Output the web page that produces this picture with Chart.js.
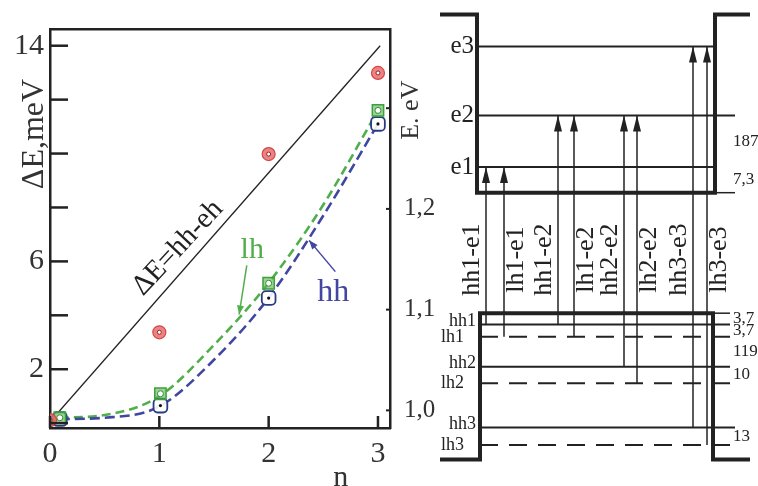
<!DOCTYPE html>
<html>
<head>
<meta charset="utf-8">
<script src="https://cdn.jsdelivr.net/npm/chart.js@4.4.1/dist/chart.umd.min.js"></script>
<style>
html, body { margin: 0; padding: 0; background: #fff; }
#wrap { position: relative; width: 758px; height: 486px; overflow: hidden; }
canvas { position: absolute; top: 0; }
#left { left: 0; }
#right { left: 390px; }
</style>
</head>
<body>
<div id="wrap">
<canvas id="left" width="450" height="486"></canvas>
<canvas id="right" width="368" height="486"></canvas>
</div>
<script>
// left panel: splitting vs n
const nObs = [0, 1, 2, 3];
const dEObs = [0.11, 3.37, 9.98, 12.99];
const nCalc = [0.09, 1.01, 2.0, 3.0];
const dELh = [0.2, 1.09, 5.19, 11.6];
const dEHh = [0.15, 0.65, 4.64, 11.1];
const nFit = [0.09, 0.5, 1.0, 1.5, 2.0, 2.5, 3.0];
const fitLh = [0.2, 0.3, 1.0, 2.9, 5.2, 8.1, 11.6];
const fitHh = [0.15, 0.2, 0.62, 2.35, 4.65, 7.7, 11.1];
const nDiag = [0, 3.02];
const dEDiag = [0.05, 14.0];
const xTicks = [0, 1, 2, 3];
const yTicks = [0, 2, 4, 6, 8, 10, 12, 14];
const yLabels = [2, 6, 14];
const eTicks = [1.0, 1.1, 1.2, 1.3];
const eLabels = ['1,0', '1,1', '1,2', ''];

// right panel: band diagram (z in arb. units, E in eV)
const cbZ = [5, 8.7, 8.7, 32.5, 32.5, 36];
const cbE = [1.384, 1.384, 1.211, 1.211, 1.384, 1.384];
const vbZ = [5, 9.0, 9.0, 32.3, 32.3, 36];
const vbE = [0.952, 0.952, 1.094, 1.094, 0.952, 0.952];
const eNames = ['e1', 'e2', 'e3'];
const eLevels = [1.236, 1.286, 1.353];
const eEnds = [32.5, 34.5, 32.5];
const hNames = ['hh1', 'lh1', 'hh2', 'lh2', 'hh3', 'lh3'];
const hLevels = [1.083, 1.071, 1.042, 1.026, 0.983, 0.966];
const hEnds = [34, 34, 34, 34, 34.5, 34.5];
const tNames = ['hh1-e1', 'lh1-e1', 'hh1-e2', 'lh1-e2', 'hh2-e2', 'lh2-e2', 'hh3-e3', 'lh3-e3'];
const tZ = [9.6, 11.4, 16.8, 18.4, 23.4, 24.7, 30.3, 31.7];
const tFrom = ['hh1', 'lh1', 'hh1', 'lh1', 'hh2', 'lh2', 'hh3', 'lh3'];
const tTo = ['e1', 'e1', 'e2', 'e2', 'e2', 'e2', 'e3', 'e3'];
const splitText = ['7,3', '187', '3,7', '3,7', '119', '10', '13'];
const splitA = ['cb', 'e1', 'vb', 'hh1', 'lh1', 'hh2', 'hh3'];
const splitB = ['e1', 'e2', 'hh1', 'lh1', 'hh2', 'lh2', 'lh3'];

const serif = "'Liberation Serif', 'DejaVu Serif', serif";
const ink = '#222';
const green = 'rgb(80,175,75)';
const blue = 'rgb(65,70,160)';
const red = 'rgb(215,70,70)';

const pts = (xs, ys) => xs.map((x, i) => ({ x: x, y: ys[i] }));

const energy = { cb: cbE[2], vb: vbE[2] };
eNames.forEach((n, i) => energy[n] = eLevels[i]);
hNames.forEach((n, i) => energy[n] = hLevels[i]);

function text(ctx, str, x, y, size, color, angle, align) {
  ctx.save();
  ctx.translate(x, y);
  ctx.rotate((angle || 0) * Math.PI / 180);
  ctx.font = size + 'px ' + serif;
  ctx.fillStyle = color;
  ctx.textAlign = align || 'center';
  ctx.textBaseline = 'middle';
  ctx.fillText(str, 0, 0);
  ctx.restore();
}

function line(ctx, x1, y1, x2, y2) {
  ctx.beginPath();
  ctx.moveTo(x1, y1);
  ctx.lineTo(x2, y2);
  ctx.stroke();
}

function arrow(ctx, x1, y1, x2, y2, color, len, half) {
  ctx.save();
  ctx.strokeStyle = color;
  ctx.fillStyle = color;
  ctx.lineWidth = 1.5;
  line(ctx, x1, y1, x2, y2);
  const a = Math.atan2(y2 - y1, x2 - x1);
  ctx.translate(x2, y2);
  ctx.rotate(a);
  ctx.beginPath();
  ctx.moveTo(0, 0);
  ctx.lineTo(-len, -half);
  ctx.lineTo(-len, half);
  ctx.closePath();
  ctx.fill();
  ctx.restore();
}

const tickFont = { family: serif, size: 30 };

const leftDecor = {
  id: 'leftDecor',
  afterDraw(chart) {
    const ctx = chart.ctx, a = chart.chartArea;
    const sx = chart.scales.x, sy = chart.scales.y, se = chart.scales.yE;
    ctx.save();
    ctx.strokeStyle = ink;
    ctx.lineWidth = 2.5;
    yTicks.forEach(v => {
      const p = sy.getPixelForValue(v);
      line(ctx, a.left, p, a.left + 18, p);
    });
    xTicks.forEach(v => {
      const p = sx.getPixelForValue(v);
      line(ctx, p, a.bottom, p, a.bottom - 12);
    });
    ctx.lineWidth = 2;
    eTicks.forEach(v => {
      const p = se.getPixelForValue(v);
      line(ctx, a.right - 4, p, a.right, p);
    });
    ctx.restore();

    text(ctx, '\u0394E,meV', a.left - 15, a.top + 105, 32, '#333', -90);
    text(ctx, 'n', sx.getPixelForValue(2.66), a.bottom + 50, 30, '#333');
    text(ctx, 'E. eV', a.right + 21, se.getPixelForValue(1.298), 26, '#333', -90);

    text(ctx, '\u0394E=hh-eh', sx.getPixelForValue(1.17), sy.getPixelForValue(6.5), 29, ink, -47);
    text(ctx, 'lh', sx.getPixelForValue(1.85), sy.getPixelForValue(6.4), 30, green);
    arrow(ctx, sx.getPixelForValue(1.80), sy.getPixelForValue(5.85),
      sx.getPixelForValue(1.73), sy.getPixelForValue(4.03), green, 9, 3.5);
    text(ctx, 'hh', sx.getPixelForValue(2.59), sy.getPixelForValue(4.83), 32, blue);
    arrow(ctx, sx.getPixelForValue(2.61), sy.getPixelForValue(5.62),
      sx.getPixelForValue(2.37), sy.getPixelForValue(6.78), blue, 9, 3.5);
  }
};

const frame = { color: ink, width: 2.5 };

new Chart(document.getElementById('left'), {
  type: 'line',
  data: {
    datasets: [
      { data: pts(nObs, dEObs), showLine: false, pointRadius: 2, pointBackgroundColor: '#fff',
        pointBorderColor: 'rgb(150,30,30)', pointBorderWidth: 1, order: 0 },
      { data: pts(nObs, dEObs), showLine: false, pointRadius: 6.5, pointBackgroundColor: 'rgba(230,110,110,0.85)',
        pointBorderColor: red, pointBorderWidth: 1.2, order: 1 },
      { data: pts(nCalc, dELh), showLine: false, pointRadius: 3, pointBackgroundColor: '#fff',
        pointBorderColor: 'rgb(50,140,50)', pointBorderWidth: 1, order: 2 },
      { data: pts(nCalc, dELh), showLine: false, pointStyle: 'rect', pointRadius: 8, pointBackgroundColor: 'rgba(90,180,80,0.6)',
        pointBorderColor: 'rgb(60,160,60)', pointBorderWidth: 1.5, order: 3 },
      { data: pts(nCalc, dEHh), showLine: false, pointRadius: 1.6, pointBackgroundColor: '#111',
        pointBorderColor: '#111', pointBorderWidth: 0, order: 4 },
      { data: pts(nCalc, dEHh), showLine: false, pointStyle: 'rectRounded', pointRadius: 8, pointBackgroundColor: 'rgba(255,255,255,0.9)',
        pointBorderColor: 'rgb(40,60,130)', pointBorderWidth: 1.8, order: 5 },
      { data: pts(nFit, fitHh), borderColor: blue, borderWidth: 2.6, borderDash: [10, 5],
        cubicInterpolationMode: 'monotone', pointRadius: 0, order: 7 },
      { data: pts(nFit, fitLh), borderColor: green, borderWidth: 2.6, borderDash: [9, 5],
        cubicInterpolationMode: 'monotone', pointRadius: 0, order: 8 },
      { data: pts(nDiag, dEDiag), borderColor: ink, borderWidth: 1.3, pointRadius: 0, order: 9 }
    ]
  },
  options: {
    responsive: false,
    animation: false,
    events: [],
    layout: { padding: 0 },
    plugins: { legend: { display: false }, tooltip: { enabled: false } },
    scales: {
      x: {
        type: 'linear', position: 'bottom', min: 0, max: 3.11,
        afterBuildTicks: s => { s.ticks = xTicks.map(v => ({ value: v })); },
        afterFit: s => { s.height = 58; },
        grid: { display: false, drawTicks: false },
        border: frame,
        ticks: { padding: 8, font: tickFont, color: '#333', autoSkip: false, maxRotation: 0, callback: v => String(v) }
      },
      xTop: {
        type: 'linear', position: 'top', min: 0, max: 3.11,
        afterFit: s => { s.height = 20; },
        grid: { display: false, drawTicks: false },
        border: frame,
        ticks: { display: false }
      },
      y: {
        type: 'linear', position: 'left', min: -0.18, max: 14.62,
        afterBuildTicks: s => { s.ticks = yTicks.map(v => ({ value: v })); },
        afterFit: s => { s.width = 50; },
        grid: { display: false, drawTicks: false },
        border: frame,
        ticks: { padding: 6, font: tickFont, color: '#333', autoSkip: false,
          callback: v => yLabels.includes(v) ? String(v) : '' }
      },
      yE: {
        type: 'linear', position: 'right', min: 0.9825, max: 1.3786,
        afterBuildTicks: s => { s.ticks = eTicks.map(v => ({ value: v })); },
        afterFit: s => { s.width = 60; },
        grid: { display: false, drawTicks: false },
        border: frame,
        ticks: { padding: 14, font: { family: serif, size: 25 }, color: '#333', autoSkip: false,
          callback: (v, i) => eLabels[i] }
      }
    }
  },
  plugins: [leftDecor]
});

// right panel
const rightDecor = {
  id: 'rightDecor',
  afterDatasetsDraw(chart) {
    const ctx = chart.ctx;
    const sx = chart.scales.x, sy = chart.scales.y;
    ctx.save();
    ctx.fillStyle = ink;
    tZ.forEach((z, i) => {
      const px = sx.getPixelForValue(z), py = sy.getPixelForValue(energy[tTo[i]]);
      ctx.beginPath();
      ctx.moveTo(px, py);
      ctx.lineTo(px - 4, py + 16);
      ctx.lineTo(px + 4, py + 16);
      ctx.closePath();
      ctx.fill();
    });
    ctx.restore();

    eNames.forEach((n, i) => {
      text(ctx, n, sx.getPixelForValue(8.4), sy.getPixelForValue(eLevels[i]), 25, ink, 0, 'right');
    });
    hNames.forEach((n, i) => {
      const heavy = n.startsWith('hh');
      text(ctx, n, sx.getPixelForValue(heavy ? 8.6 : 7.4), sy.getPixelForValue(hLevels[i]) - (heavy ? 3 : 0),
        18, ink, 0, 'right');
    });
    tNames.forEach((n, i) => {
      const off = n.startsWith('hh') ? -1.4 : 1.2;
      text(ctx, n, sx.getPixelForValue(tZ[i] + off), sy.getPixelForValue(1.146), 26, ink, -90);
    });
    splitText.forEach((t, i) => {
      const e = (energy[splitA[i]] + energy[splitB[i]]) / 2;
      text(ctx, t, sx.getPixelForValue(34.3), sy.getPixelForValue(e), 17, ink, 0, 'left');
    });
  }
};

const rightSets = [
  { data: pts(cbZ, cbE), borderWidth: 4 },
  { data: pts(vbZ, vbE), borderWidth: 4 },
  { data: pts([cbZ[3], 34.5], [cbE[3], cbE[3]]), borderWidth: 1.5 },
  { data: pts([vbZ[3], 34], [vbE[3], vbE[3]]), borderWidth: 1.5 }
];
eNames.forEach((n, i) => {
  rightSets.push({ data: pts([cbZ[1], eEnds[i]], [eLevels[i], eLevels[i]]), borderWidth: 2 });
});
hNames.forEach((n, i) => {
  rightSets.push({ data: pts([vbZ[1], hEnds[i]], [hLevels[i], hLevels[i]]), borderWidth: 2,
    borderDash: n.startsWith('lh') ? [18, 11] : [] });
});
tZ.forEach((z, i) => {
  rightSets.push({ data: pts([z, z], [energy[tFrom[i]], energy[tTo[i]]]), borderWidth: 1.5 });
});
rightSets.forEach(d => { d.borderColor = ink; d.pointRadius = 0; d.tension = 0; });

new Chart(document.getElementById('right'), {
  type: 'line',
  data: { datasets: rightSets },
  options: {
    responsive: false,
    animation: false,
    events: [],
    layout: { padding: 0 },
    plugins: { legend: { display: false }, tooltip: { enabled: false } },
    scales: {
      x: { type: 'linear', display: false, min: 0, max: 36.8 },
      y: { type: 'linear', display: false, min: 0.9262, max: 1.3981 }
    }
  },
  plugins: [rightDecor]
});
</script>
</body>
</html>
